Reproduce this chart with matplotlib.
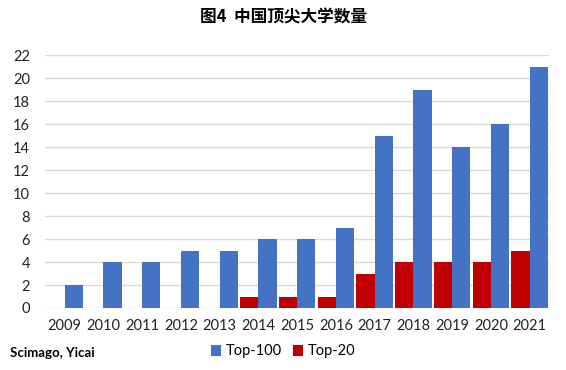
import numpy as np
import matplotlib.pyplot as plt

years = ['2009', '2010', '2011', '2012', '2013', '2014', '2015',
         '2016', '2017', '2018', '2019', '2020', '2021']
top100 = [2, 4, 4, 5, 5, 6, 6, 7, 15, 19, 14, 16, 21]
top20 = [0, 0, 0, 0, 0, 1, 1, 1, 3, 4, 4, 4, 5]

plt.rcParams['font.family'] = ['Lato', 'DejaVu Sans']

fig = plt.figure(figsize=(5.66, 3.70), dpi=100)
ax = fig.add_axes([0.08, 0.1676, 0.89, 0.683])

x = np.arange(len(years))
w = 0.47
ax.bar(x - w / 2, top20, w, color='#C00000', label='Top-20', zorder=3)
ax.bar(x + w / 2, top100, w, color='#4472C4', label='Top-100', zorder=3)

ax.set_xlim(-0.5, len(years) - 0.5)
ax.set_ylim(0, 22)
ax.set_yticks(range(0, 23, 2))
ax.set_xticks(x)
ax.set_xticklabels(years)
ax.tick_params(length=0, labelsize=10.5, colors='#222222')
ax.tick_params(axis='x', pad=8)
ax.tick_params(axis='y', pad=11)
ax.grid(axis='y', color='#d9d9d9', linewidth=1, zorder=0)
for s in ax.spines.values():
    s.set_visible(False)

h, l = ax.get_legend_handles_labels()
fig.legend([h[1], h[0]], [l[1], l[0]], loc='center', bbox_to_anchor=(0.5, 0.05),
           ncol=2, frameon=False, fontsize=10.5, handlelength=0.7, handleheight=0.7,
           handletextpad=0.3, columnspacing=0.8)

fig.text(0.5, 0.952, '图4  中国顶尖大学数量', ha='center', va='center', fontsize=12,
         fontweight='bold', family=['Noto Sans CJK SC', 'DejaVu Sans'])
fig.text(0.018, 0.045, 'Scimago, Yicai', ha='left', va='center', fontsize=9.5,
         fontweight='bold')

fig.savefig('out.png', dpi=100)
